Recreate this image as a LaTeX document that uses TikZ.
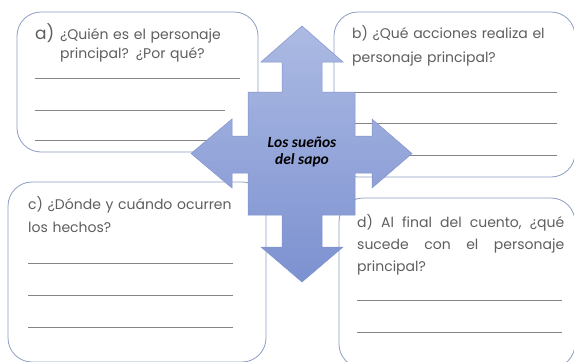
\documentclass[tikz,border=0pt]{standalone}
\usepackage{fontspec}
\setmainfont{Poppins}
\newfontfamily\titlefont{Carlito}
\begin{document}
\begin{tikzpicture}[x=1pt,y=-1pt]

% Define colours and styles
\definecolor{boxline}{HTML}{8C9CC2}
\definecolor{textgray}{HTML}{5E5E5E}
\definecolor{rulegray}{HTML}{858585}
\definecolor{arrowtop}{HTML}{ACBAE3}
\definecolor{arrowbot}{HTML}{7C91D0}
\definecolor{arrowline}{HTML}{8194CC}
\tikzstyle{box} = [rectangle, rounded corners=24pt, draw=boxline, line width=0.8pt, inner sep=0pt]
\tikzstyle{question} = [anchor=base west, inner sep=0pt, text=textgray, font=\fontsize{14}{19}\selectfont, align=left]
\tikzstyle{rule} = [draw=rulegray, line width=0.8pt]

\useasboundingbox (0,0) rectangle (574,362);
\clip (0,0) rectangle (574,362);

% Define boxes
\node (boxa) [box, minimum width=241pt, minimum height=140pt] at (137.5,82) {};
\node (boxb) [box, minimum width=241pt, minimum height=165pt] at (454.5,94.5) {};
\node (boxc) [box, minimum width=258pt, minimum height=180pt] at (137,272) {};
\node (boxd) [box, minimum width=236pt, minimum height=170pt] at (457,283) {};

% Questions
\node (qa) [question, font=\fontsize{17}{20}\selectfont] at (35,39) {a)};
\node (ta) [question, text width=195pt] at (60,39) {¿Quién es el personaje\\principal? ¿Por qué?};
\node (tb) [question, text width=215pt, font=\fontsize{14}{24}\selectfont] at (352,38) {b) ¿Qué acciones realiza el\\personaje principal?};
\node (tc) [question, text width=225pt, font=\fontsize{14}{23}\selectfont] at (28,209) {c) ¿Dónde y cuándo ocurren\\los hechos?};
\node (td) [question, text width=207pt, font=\fontsize{14}{22}\selectfont] at (357,227)
  {\makebox[207pt]{d)\hfill Al\hfill final\hfill del\hfill cuento,\hfill ¿qué}\\
   \makebox[207pt]{sucede\hfill con\hfill el\hfill personaje}\\principal?};

% Answer lines
\coordinate (a1) at (35,78);  \coordinate (a1e) at (240,78);
\coordinate (a2) at (35,110); \coordinate (a2e) at (225,110);
\coordinate (a3) at (35,140); \coordinate (a3e) at (235,140);
\coordinate (b1) at (352,92);  \coordinate (b1e) at (557,92);
\coordinate (b2) at (352,123); \coordinate (b2e) at (557,123);
\coordinate (b3) at (352,155); \coordinate (b3e) at (557,155);
\coordinate (c1) at (28,263); \coordinate (c1e) at (233,263);
\coordinate (c2) at (28,295); \coordinate (c2e) at (233,295);
\coordinate (c3) at (28,327); \coordinate (c3e) at (233,327);
\coordinate (d1) at (357,300); \coordinate (d1e) at (562,300);
\coordinate (d2) at (357,332); \coordinate (d2e) at (562,332);
\foreach \s/\e in {a1/a1e,a2/a2e,a3/a3e,b1/b1e,b2/b2e,b3/b3e,c1/c1e,c2/c2e,c3/c3e,d1/d1e,d2/d2e}
  \draw [rule] (\s) -- (\e);

% Four-way arrow
\path [draw=arrowline, line width=0.5pt, top color=arrowtop, bottom color=arrowbot]
  (302,26) -- (343,62) -- (322,62) -- (322,92) -- (355,92) -- (355,136) -- (372,136) -- (372,119)
  -- (412,153.5) -- (372,188) -- (372,173) -- (355,173) -- (355,215) -- (322,215) -- (322,247)
  -- (343,247) -- (302,282) -- (261,247) -- (282,247) -- (282,215) -- (248,215) -- (248,173)
  -- (232,173) -- (232,188) -- (191,153.5) -- (232,119) -- (232,136) -- (248,136) -- (248,92)
  -- (282,92) -- (282,62) -- (261,62) -- cycle;
\node (title) [align=center, font=\titlefont\bfseries\itshape\fontsize{15.5}{17}\selectfont, inner sep=0pt] at (302,152) {Los sueños\\del sapo};

\end{tikzpicture}
\end{document}
